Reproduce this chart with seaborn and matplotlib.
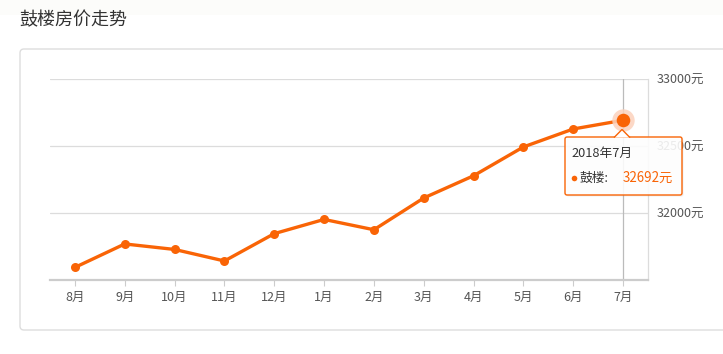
import matplotlib
matplotlib.use("Agg")
import matplotlib.pyplot as plt
import seaborn as sns
import pandas as pd
from matplotlib.patches import FancyBboxPatch, Polygon, Rectangle, Circle

months = ["8月", "9月", "10月", "11月", "12月", "1月", "2月", "3月", "4月", "5月", "6月", "7月"]
prices = [31594, 31769, 31728, 31642, 31846, 31952, 31875, 32112, 32278, 32493, 32627, 32692]
y_ticks = [32000, 32500, 33000]
y_tick_labels = ["32000元", "32500元", "33000元"]
title = "鼓楼房价走势"
tooltip_title = "2018年7月"
series_name = "鼓楼"

sns.set_theme(style="white")
plt.rcParams["font.family"] = ["Noto Sans CJK SC", "DejaVu Sans"]

W, H = 723, 354
fig = plt.figure(figsize=(W / 100, H / 100), dpi=100)
fig.patch.set_facecolor("white")

def fx(px):
    return px / W

def fy(py):
    return 1 - py / H

# background layer in pixel coordinates
bg = fig.add_axes([0, 0, 1, 1], zorder=0)
bg.set_xlim(0, W)
bg.set_ylim(H, 0)
bg.axis("off")
bg.add_patch(Rectangle((0, 0), W, 15, facecolor="#fcfcfa", edgecolor="none"))
bg.add_patch(FancyBboxPatch((20, 49), 720, 281, boxstyle="round,pad=0,rounding_size=4",
                            facecolor="white", edgecolor="#dddddd", linewidth=1.0))
bg.text(19, 20, title, fontsize=13, color="#333333", va="center", ha="left")

ax = fig.add_axes([fx(50), fy(280), fx(648) - fx(50), fy(79) - fy(280)], zorder=1)
ax.set_facecolor("none")

df = pd.DataFrame({"month": months, "price": prices})
color = "#f96406"
sns.lineplot(data=df, x="month", y="price", sort=False, ax=ax, color=color,
             linewidth=2.4, marker="o", markersize=6.5, markeredgewidth=0, zorder=5)

ax.set_xlim(-0.5, len(months) - 0.5)
ax.set_ylim(31500, 33000)
ax.set_xlabel("")
ax.set_ylabel("")

for v in y_ticks:
    ax.axhline(v, color="#dcdcdc", linewidth=0.9, zorder=1)

for s in ["top", "left"]:
    ax.spines[s].set_visible(False)
ax.spines["right"].set_color("#dcdcdc")
ax.spines["right"].set_linewidth(0.9)
ax.spines["bottom"].set_color("#cccccc")
ax.spines["bottom"].set_linewidth(1.6)

ax.set_xticks(range(len(months)))
ax.set_xticklabels(months)
ax.tick_params(axis="x", bottom=True, length=4, width=0.8, color="#cccccc",
               labelsize=9, labelcolor="#555555", pad=4)
ax.yaxis.tick_right()
ax.set_yticks(y_ticks)
ax.set_yticklabels(y_tick_labels)
ax.tick_params(axis="y", right=False, left=False, length=0, labelsize=9,
               labelcolor="#555555", pad=6.5)

last = len(months) - 1
ax.axvline(last, color="#bbbbbb", linewidth=0.9, zorder=2)

ax.scatter([last], [prices[-1]], s=260, color="#fcd2bc", alpha=0.85, zorder=6, linewidths=0)
ax.scatter([last], [prices[-1]], s=95, color=color, zorder=7, linewidths=0)

# tooltip overlay in pixel coordinates
ov = fig.add_axes([0, 0, 1, 1], zorder=3)
ov.set_xlim(0, W)
ov.set_ylim(H, 0)
ov.axis("off")
ov.patch.set_alpha(0)
bx0, bx1, by0, by1 = 565, 682, 137, 195
ov.add_patch(FancyBboxPatch((bx0 + 1.5, by0 + 1.5), bx1 - bx0, by1 - by0,
                            boxstyle="round,pad=0,rounding_size=2",
                            facecolor=(0.5, 0.5, 0.5, 0.12), edgecolor="none"))
ov.add_patch(FancyBboxPatch((bx0, by0), bx1 - bx0, by1 - by0,
                            boxstyle="round,pad=0,rounding_size=2",
                            facecolor=(1, 1, 1, 0.88), edgecolor=color, linewidth=1.0))
ov.add_patch(Polygon([(614, 137.6), (622, 129.5), (630, 137.6)], closed=False,
                     facecolor="white", edgecolor=color, linewidth=1.0))
ov.text(571, 153, tooltip_title, fontsize=9.2, color="#333333", va="center", ha="left")
ov.add_patch(Circle((574.5, 178.5), 2.8, facecolor=color, edgecolor="none"))
ov.text(580, 178, series_name + ":", fontsize=9.2, color="#333333", va="center", ha="left")
ov.text(623, 178, f"{prices[-1]}元", fontsize=9.6, color=color, va="center", ha="left")

fig.savefig("out.png", dpi=100)
